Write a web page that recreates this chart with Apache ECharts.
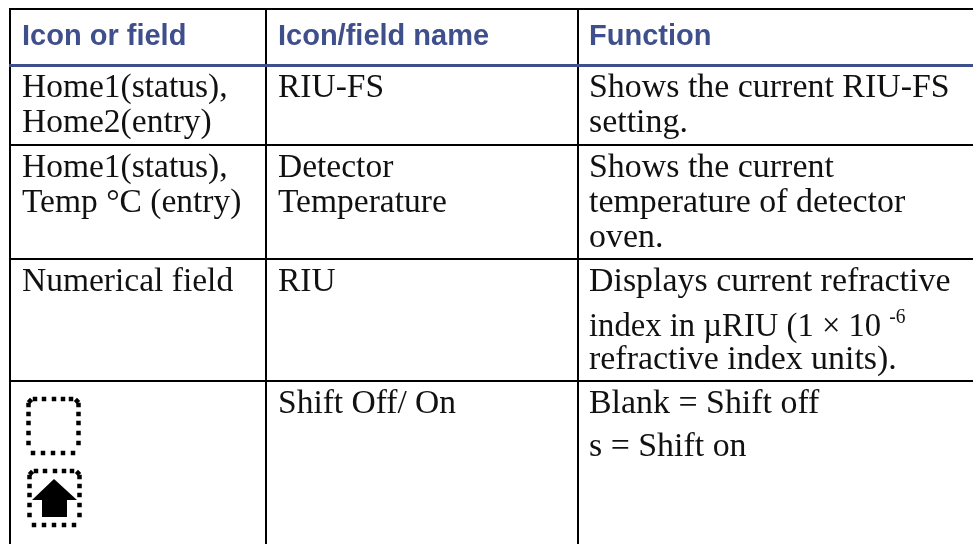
<!DOCTYPE html>
<html>
<head>
<meta charset="utf-8">
<title>Icon or field</title>
<style>html,body{margin:0;padding:0;background:#fff}#main{width:973px;height:544px}</style>
<script src="https://cdn.jsdelivr.net/npm/echarts@6/dist/echarts.min.js"></script>
</head>
<body>
<div id="main"></div>
<script>
var myChart = echarts.init(document.getElementById('main'));

// table content
var headers = ['Icon or field', 'Icon/field name', 'Function'];
var col1 = [['Home1(status),', 'Home2(entry)'], ['Home1(status),', 'Temp °C (entry)'], ['Numerical field'], []];
var col2 = [['RIU-FS'], ['Detector', 'Temperature'], ['RIU'], ['Shift Off/ On']];
var col3 = [
  ['Shows the current RIU-FS', 'setting.'],
  ['Shows the current', 'temperature of detector', 'oven.'],
  ['Displays current refractive', '{b|index in µRIU (1 × 10 }{s|-6}', 'refractive index units).'],
  ['Blank = Shift off', 's = Shift on']
];
var colSizes = [256, 312, 420];
var rowSizes = [56, 80, 114, 122, 180];

var BLUE = '#3f4f8c';
var INK = '#111';
var SERIF = 'Liberation Serif';

// rows whose function column has a wider gap under the first line
var wideRows = [3, 4];
// function column runs a little wider than the other two
var colStretch = [1, 1, 1.012];

var cells = [];
headers.forEach(function (h, c) { cells.push([c, 0, [h]]); });
[col1, col2, col3].forEach(function (col, c) {
  col.forEach(function (lines, r) { cells.push([c, r + 1, lines]); });
});

function renderCell(params, api) {
  var cell = cells[params.dataIndex];
  var rect = api.layout([cell[0], cell[1]]).rect;
  var children = [];
  var isHead = cell[1] === 0;
  var y = rect.y + (isHead ? 13 : 6);
  cell[2].forEach(function (line, i) {
    if (i > 0) {
      y += (cell[0] === 2 && wideRows.indexOf(cell[1]) >= 0 && i === 1) ? 43 : 35;
    }
    var isRich = line.charAt(0) === '{';
    children.push({
      type: 'text',
      x: rect.x + (cell[0] === 2 ? 11 : 12),
      y: y,
      scaleX: isHead ? 1 : (isRich ? 0.975 : colStretch[cell[0]]),
      style: isHead ? {
        text: line, font: 'bold 29px "Liberation Sans"', fill: BLUE, verticalAlign: 'top'
      } : {
        text: line, font: '33.5px "' + SERIF + '"', fill: INK, verticalAlign: 'top',
        rich: {
          b: { font: '33.5px "' + SERIF + '"', fill: INK, lineHeight: 38 },
          s: { font: '20px "' + SERIF + '"', fill: INK, lineHeight: 38, verticalAlign: 'top' }
        }
      }
    });
  });
  return { type: 'group', children: children };
}

// dotted frame of the shift icons
var dotTop = [35, 44, 54, 63, 71];
var dotBottom = [33, 43, 53, 63, 73];
var dotY = [405, 414, 423, 433, 443];
function frame(dx, dy) {
  var kids = [];
  function dot(x, y, rot) {
    kids.push({
      type: 'rect', x: x + dx, y: y + dy, rotation: rot || 0,
      shape: { x: -2.25, y: -2.25, width: 4.5, height: 4.5 }, style: { fill: '#000' }
    });
  }
  dotTop.forEach(function (x) { dot(x, 399); });
  dotBottom.forEach(function (x) { dot(x, 453); });
  dotY.forEach(function (y) { dot(28.5, y); dot(78.5, y); });
  dot(30, 401, Math.PI / 4);
  dot(77, 401, Math.PI / 4);
  return kids;
}

var option = {
  backgroundColor: '#fff',
  matrix: {
    left: 10,
    top: 9,
    width: colSizes[0] + colSizes[1] + colSizes[2],
    height: 552,
    x: { show: false, data: headers.map(function (h, i) { return { value: h, size: colSizes[i] }; }) },
    y: { show: false, data: rowSizes.map(function (s, i) { return { value: 'r' + i, size: s }; }) },
    backgroundStyle: { color: 'transparent', borderWidth: 0 },
    body: { itemStyle: { color: '#fff', borderColor: '#000', borderWidth: 2 } }
  },
  series: [{
    type: 'custom',
    coordinateSystem: 'matrix',
    silent: true,
    data: cells.map(function (c) { return [c[0], c[1]]; }),
    renderItem: renderCell
  }],
  graphic: [
    { type: 'rect', shape: { x: 9, y: 64, width: 964, height: 3 }, style: { fill: BLUE }, z: 100 },
    { type: 'group', children: frame(0, 0) },
    { type: 'group', children: frame(1, 72) },
    {
      type: 'polygon',
      shape: { points: [[54, 479], [77, 500], [67, 500], [67, 517], [42, 517], [42, 500], [32, 500]] },
      style: { fill: '#000' }
    }
  ]
};

myChart.setOption(option);
</script>
</body>
</html>
